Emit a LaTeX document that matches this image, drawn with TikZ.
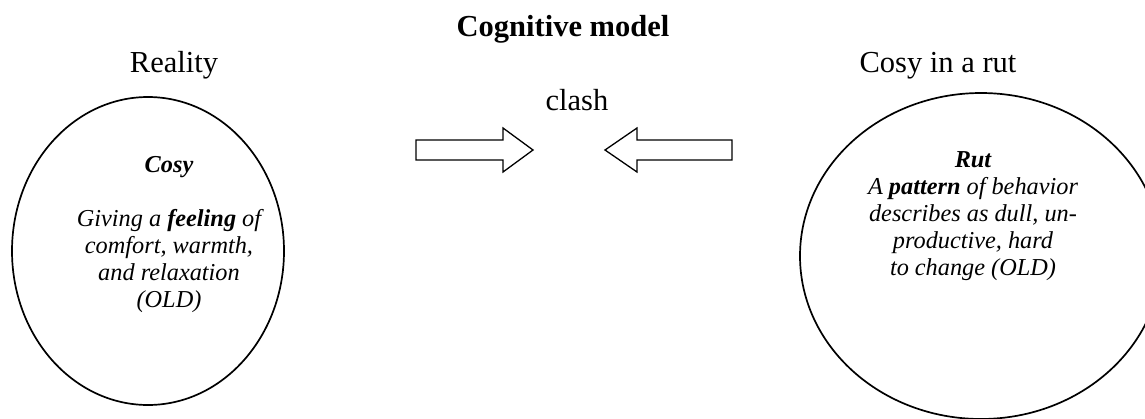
\documentclass[tikz,border=0pt]{standalone}
\usepackage{fontspec}
\setmainfont{Liberation Serif}
\usetikzlibrary{shapes.geometric}
\begin{document}
\begin{tikzpicture}[x=1pt,y=-1pt,
  head/.style={font=\fontsize{30.5}{36}\selectfont, anchor=base, inner sep=0pt},
  body/.style={font=\fontsize{24.3}{27}\selectfont\itshape, align=center, anchor=base, inner sep=0pt},
  bubble/.style={draw, line width=1.7pt, ellipse, inner sep=0pt},
  fatarrow/.style={draw, line width=1.3pt, line join=miter}]
\useasboundingbox (0,0) rectangle (1145,418);
\node[head, font=\fontsize{30.5}{36}\selectfont\bfseries] (title) at (563,36) {Cognitive model};
\node[head] (reality) at (174,72) {Reality};
\node[head] (rutlabel) at (938,72) {Cosy in a rut};
\node[head] (clash) at (577,110) {clash};
\node[bubble, minimum width=272, minimum height=308] (cosy) at (148,251) {};
\node[bubble, minimum width=362, minimum height=326] (rut) at (981,256) {};
\node[body] (cosytext) at (169,307) {\textbf{Cosy}\\[27pt]Giving a \textbf{feeling} of\\comfort, warmth,\\and relaxation\\(OLD)};
\node[body] (ruttext) at (973,275) {\textbf{Rut}\\A \textbf{pattern} of behavior\\describes as dull, un-\\productive, hard\\to change (OLD)};
\draw[fatarrow] (416,140) -- (503,140) -- (503,128) -- (533,150) -- (503,172) -- (503,160) -- (416,160) -- cycle;
\draw[fatarrow] (732,140) -- (637,140) -- (637,128) -- (605,150) -- (637,172) -- (637,160) -- (732,160) -- cycle;
\end{tikzpicture}
\end{document}
